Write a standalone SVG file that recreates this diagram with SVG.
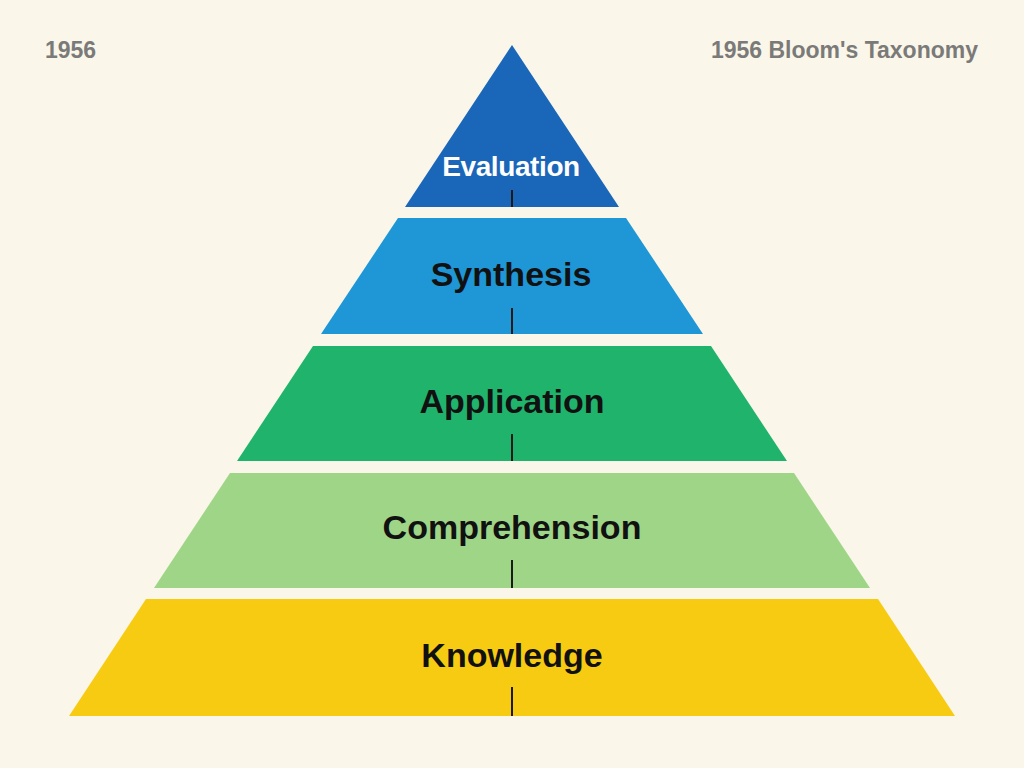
<svg xmlns="http://www.w3.org/2000/svg" width="1024" height="768" viewBox="0 0 1024 768">
  <style>
    .lbl { font-family: "Liberation Sans", Arial, sans-serif; font-weight: bold; text-anchor: middle; fill: #111111; font-size: 34px; }
    .hdr { font-family: "Liberation Sans", Arial, sans-serif; font-weight: bold; fill: #7a7a78; font-size: 23px; }
    .tick { stroke: #1a1a1a; stroke-width: 2; }
  </style>
  <rect width="1024" height="768" fill="#faf6ea"/>
  <text class="hdr" x="45" y="58">1956</text>
  <text class="hdr" x="978" y="58" text-anchor="end">1956 Bloom's Taxonomy</text>

  <g id="evaluation">
    <polygon points="512,45 619,207 405,207" fill="#1a66b8"/>
    <text class="lbl" x="511" y="176" style="fill:#ffffff;font-size:28px" letter-spacing="-0.4">Evaluation</text>
  </g>
  <g id="synthesis">
    <polygon points="398,218 626,218 703,334 321,334" fill="#1f96d5"/>
    <text class="lbl" x="511" y="286">Synthesis</text>
  </g>
  <g id="application">
    <polygon points="313,346 711,346 787,461 237,461" fill="#20b36c"/>
    <text class="lbl" x="512" y="413">Application</text>
  </g>
  <g id="comprehension">
    <polygon points="230,473 794,473 870,588 154,588" fill="#9ed586"/>
    <text class="lbl" x="512" y="539">Comprehension</text>
  </g>
  <g id="knowledge">
    <polygon points="146,599 878,599 955,716 69,716" fill="#f6cb12"/>
    <text class="lbl" x="512" y="667">Knowledge</text>
  </g>

  <g id="connectors">
    <line class="tick" x1="512" y1="190" x2="512" y2="207"/>
    <line class="tick" x1="512" y1="308" x2="512" y2="334"/>
    <line class="tick" x1="512" y1="434" x2="512" y2="461"/>
    <line class="tick" x1="512" y1="560" x2="512" y2="588"/>
    <line class="tick" x1="512" y1="687" x2="512" y2="716"/>
  </g>
</svg>
